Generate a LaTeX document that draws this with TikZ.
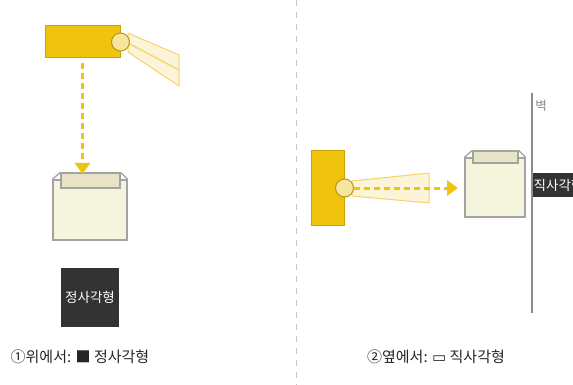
\documentclass[tikz,border=0pt]{standalone}
\usepackage{fontspec}
\setmainfont{Noto Sans CJK KR}
\newfontfamily\symfont{DejaVu Sans}
\usetikzlibrary{arrows.meta}
\definecolor{PJYellow}{HTML}{F0C30F}
\definecolor{PJEdge}{HTML}{C9A20C}
\definecolor{PJLens}{HTML}{F6E59E}
\definecolor{PJLensEdge}{HTML}{B8960C}
\definecolor{PJBeam}{HTML}{FBF4D8}
\definecolor{PJBeamLine}{HTML}{F6D568}
\definecolor{PJPaper}{HTML}{F5F4DC}
\definecolor{PJTab}{HTML}{E9E3C5}
\definecolor{PJGray}{HTML}{A3A3A3}
\definecolor{PJWall}{HTML}{8C8C8C}
\definecolor{PJDark}{HTML}{333333}
\definecolor{PJRule}{HTML}{C4C4C4}
\tikzset{
  projbody/.style={draw=PJEdge,fill=PJYellow,line width=1pt,inner sep=0pt},
  lens/.style={circle,draw=PJLensEdge,fill=PJLens,line width=1pt,minimum size=18pt,inner sep=0pt},
  beam/.style={draw=PJBeamLine,fill=PJBeam,line width=1pt,line join=round},
  ray/.style={PJYellow,line width=3pt,dash pattern=on 6pt off 4pt,-{Triangle[width=15pt,length=11pt]}},
  paper/.style={draw=PJGray,fill=PJPaper,line width=1.3pt,inner sep=0pt},
  papertab/.style={draw=PJGray,fill=PJTab,line width=1.3pt,inner sep=0pt},
  shapelabel/.style={fill=PJDark,text=white,font=\fontsize{13.5}{15}\selectfont,inner sep=0pt},
  caption/.style={font=\fontsize{15}{18}\selectfont,text=black!85}
}

\begin{document}
\begin{tikzpicture}[x=1pt,y=-1pt]
\path[use as bounding box] (0,0) rectangle (573,385);
\fill[white] (0,0) rectangle (573,385);
\clip (0,0) rectangle (573,385);
\draw[PJRule,line width=1pt,dash pattern=on 6pt off 6pt] (296,0) -- (296,385);

% from above
\path[beam] (128,33) -- (179,55) -- (179,86) -- (128,52) -- cycle;
\draw[PJBeamLine,line width=1.3pt] (128,43) -- (179,70);
\node[projbody,minimum width=75pt,minimum height=32pt] (topproj) at (82.5,42) {};
\node[lens] (toplens) at (topproj.east) {};
\node[paper,minimum width=74pt,minimum height=60pt] (topscreen) at (90,210) {};
\node[papertab,minimum width=59pt,minimum height=15pt] (toptab) at (90.5,180.5) {};
\draw[PJGray,line width=1.3pt] (topscreen.north west) -- (toptab.north west);
\draw[PJGray,line width=1.3pt] (topscreen.north east) -- (toptab.north east);
\coordinate (toptip) at (82.5,174);
\draw[ray,shorten <=5pt] (topproj.south) -- (toptip);
\node[shapelabel,minimum width=58pt,minimum height=59pt] (topshape) at (90,297.5) {정사각형};
\node[caption] (topcap) at (80,357) {①위에서: ■ 정사각형};

% from the side
\path[beam] (352,181) -- (429,173) -- (429,203) -- (352,196) -- cycle;
\node[projbody,minimum width=33pt,minimum height=74pt] (sideproj) at (327.5,188) {};
\node[lens] (sidelens) at (sideproj.east) {};
\coordinate (sidetip) at (458,188);
\draw[ray] (sidelens.east) -- (sidetip);
\node[paper,minimum width=60pt,minimum height=59pt] (sidescreen) at (495,187.5) {};
\node[papertab,minimum width=45pt,minimum height=12pt] (sidetab) at (495.5,157) {};
\draw[PJGray,line width=1.3pt] (sidescreen.north west) -- (sidetab.north west);
\draw[PJGray,line width=1.3pt] (sidescreen.north east) -- (sidetab.north east);
\draw[PJWall,line width=2.5pt] (532,93) -- (532,313);
\node[text=PJWall,font=\fontsize{12.5}{14}\selectfont] (walllabel) at (541,106) {벽};
\node[shapelabel,anchor=west,minimum height=24pt,text width=60pt,inner xsep=0.5pt] (sideshape) at (533,185) {직사각형};
\node[caption] (sidecap) at (436,357) {②옆에서: {\symfont ▭} 직사각형};
\end{tikzpicture}
\end{document}
